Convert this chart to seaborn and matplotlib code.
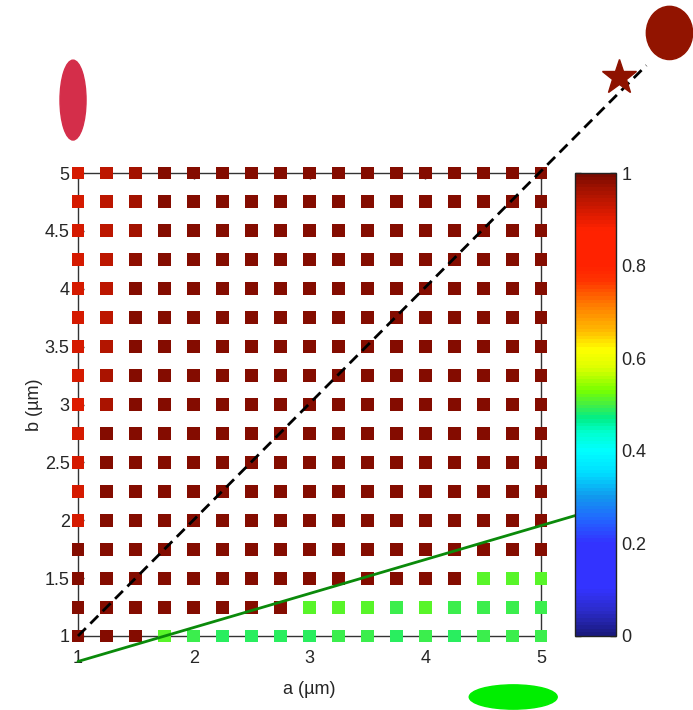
import numpy as np
import pandas as pd
import matplotlib
matplotlib.use("Agg")
import matplotlib.pyplot as plt
from matplotlib.colors import LinearSegmentedColormap, Normalize
from matplotlib.cm import ScalarMappable
from matplotlib.patches import Ellipse
import seaborn as sns

# ---------------- data ----------------
a_values = [1.0, 1.25, 1.5, 1.75, 2.0, 2.25, 2.5, 2.75, 3.0, 3.25, 3.5, 3.75, 4.0, 4.25, 4.5, 4.75, 5.0]
b_values = [1.0, 1.25, 1.5, 1.75, 2.0, 2.25, 2.5, 2.75, 3.0, 3.25, 3.5, 3.75, 4.0, 4.25, 4.5, 4.75, 5.0]

# rows: b = 1.0 ... 5.0 ; columns: a = 1.0 ... 5.0
t_b100 = [0.985, 0.985, 0.985, 0.51, 0.497, 0.485, 0.485, 0.485, 0.485, 0.497, 0.497, 0.485, 0.497, 0.485, 0.497, 0.497, 0.497]
t_b125 = [0.985, 0.985, 0.985, 0.985, 0.985, 0.985, 0.985, 0.985, 0.51, 0.51, 0.51, 0.497, 0.51, 0.497, 0.497, 0.497, 0.497]
t_b150 = [0.985, 0.985, 0.985, 0.985, 0.985, 0.985, 0.985, 0.985, 0.985, 0.985, 0.985, 0.985, 0.985, 0.985, 0.515, 0.515, 0.515]
t_b175 = [0.985, 0.985, 0.985, 0.985, 0.985, 0.985, 0.985, 0.985, 0.985, 0.985, 0.985, 0.985, 0.985, 0.985, 0.985, 0.985, 0.985]
t_b200 = [0.915, 0.985, 0.985, 0.985, 0.985, 0.985, 0.985, 0.985, 0.985, 0.985, 0.985, 0.985, 0.985, 0.985, 0.985, 0.985, 0.985]
t_b225 = [0.915, 0.985, 0.985, 0.985, 0.985, 0.985, 0.985, 0.985, 0.985, 0.985, 0.985, 0.985, 0.985, 0.985, 0.985, 0.985, 0.985]
t_b250 = [0.915, 0.985, 0.985, 0.985, 0.985, 0.985, 0.985, 0.985, 0.985, 0.985, 0.985, 0.985, 0.985, 0.985, 0.985, 0.985, 0.985]
t_b275 = [0.915, 0.985, 0.985, 0.985, 0.985, 0.985, 0.985, 0.985, 0.985, 0.985, 0.985, 0.985, 0.985, 0.985, 0.985, 0.985, 0.985]
t_b300 = [0.91, 0.958, 0.985, 0.985, 0.985, 0.985, 0.985, 0.985, 0.985, 0.985, 0.985, 0.985, 0.985, 0.985, 0.985, 0.985, 0.985]
t_b325 = [0.915, 0.955, 0.985, 0.985, 0.985, 0.985, 0.985, 0.985, 0.985, 0.985, 0.985, 0.985, 0.985, 0.985, 0.985, 0.985, 0.985]
t_b350 = [0.915, 0.948, 0.985, 0.985, 0.985, 0.985, 0.985, 0.985, 0.985, 0.985, 0.985, 0.985, 0.985, 0.985, 0.985, 0.985, 0.985]
t_b375 = [0.915, 0.945, 0.985, 0.985, 0.985, 0.985, 0.985, 0.985, 0.985, 0.985, 0.985, 0.985, 0.985, 0.985, 0.985, 0.985, 0.985]
t_b400 = [0.915, 0.942, 0.985, 0.985, 0.985, 0.985, 0.985, 0.985, 0.985, 0.985, 0.985, 0.985, 0.985, 0.985, 0.985, 0.985, 0.985]
t_b425 = [0.915, 0.942, 0.982, 0.985, 0.985, 0.985, 0.985, 0.985, 0.985, 0.985, 0.985, 0.985, 0.985, 0.985, 0.985, 0.985, 0.985]
t_b450 = [0.915, 0.94, 0.962, 0.985, 0.985, 0.985, 0.985, 0.985, 0.985, 0.985, 0.985, 0.985, 0.985, 0.985, 0.985, 0.985, 0.985]
t_b475 = [0.915, 0.94, 0.962, 0.985, 0.985, 0.985, 0.985, 0.985, 0.985, 0.985, 0.985, 0.985, 0.985, 0.985, 0.985, 0.985, 0.985]
t_b500 = [0.915, 0.94, 0.962, 0.985, 0.985, 0.985, 0.985, 0.985, 0.985, 0.985, 0.985, 0.985, 0.985, 0.985, 0.985, 0.985, 0.985]

transmission_rows = [t_b100, t_b125, t_b150, t_b175, t_b200, t_b225, t_b250, t_b275, t_b300,
                     t_b325, t_b350, t_b375, t_b400, t_b425, t_b450, t_b475, t_b500]

x_ticks = [1, 2, 3, 4, 5]
y_ticks = [1, 1.5, 2, 2.5, 3, 3.5, 4, 4.5, 5]
y_tick_labels = ["1", "1.5", "2", "2.5", "3", "3.5", "4", "4.5", "5"]
cbar_ticks = [0, 0.2, 0.4, 0.6, 0.8, 1]
cbar_tick_labels = ["0", "0.2", "0.4", "0.6", "0.8", "1"]

# reference lines
diag_a = [1.0, 5.91]
diag_b = [1.0, 5.93]
green_a = [1.0, 5.294]
green_b = [0.78, 2.04]
star_ab = (5.67, 5.83)

# ---------------- style ----------------
sns.set_theme(style="white")
plt.rcParams["font.family"] = ["Liberation Sans", "DejaVu Sans"]
text_color = "#262626"

cmap = LinearSegmentedColormap.from_list("jetlike", [
    (0.00, "#1a1a80"), (0.05, "#2b2bc8"), (0.10, "#3333ff"), (0.20, "#3333ff"),
    (0.25, "#2266ff"), (0.30, "#1199ee"), (0.35, "#00ddff"), (0.40, "#00ffff"),
    (0.44, "#00ffcc"), (0.47, "#00ee88"), (0.50, "#44ee44"), (0.53, "#77ff00"),
    (0.58, "#ddff00"), (0.62, "#ffff00"), (0.66, "#ffbb00"), (0.72, "#ff7700"),
    (0.77, "#ff3300"), (0.80, "#ff2200"), (0.88, "#ff2200"), (0.93, "#cc1800"),
    (0.97, "#a01200"), (1.00, "#7a0a00")], N=128)
norm = Normalize(0, 1)

AA, BB = np.meshgrid(a_values, b_values)
df = pd.DataFrame({"a": AA.ravel(), "b": BB.ravel(),
                   "T": np.array(transmission_rows).ravel()})

W, H = 693, 710
fig = plt.figure(figsize=(W / 100, H / 100), dpi=100)
ax = fig.add_axes([78 / W, 74 / H, 463 / W, 463 / H])
cax = fig.add_axes([575 / W, 74 / H, 41 / W, 463 / H])

sns.scatterplot(data=df, x="a", y="b", hue="T", palette=cmap, hue_norm=(0, 1),
                marker="s", s=86, linewidth=0, legend=False, ax=ax,
                clip_on=False, zorder=4)

ax.plot(diag_a, diag_b, color="black", lw=2, ls="--", dashes=(4, 2.3),
        clip_on=False, zorder=5)
ax.plot(green_a, green_b, color="#0a8a0a", lw=2, clip_on=False, zorder=5)
ax.plot([star_ab[0]], [star_ab[1]], marker="*", ms=26, color="#8e1200",
        mec="#8e1200", clip_on=False, zorder=6)

# cross-section shapes
ax.add_patch(Ellipse((0.957, 5.63), 0.225, 0.69, color="#d42e4a", clip_on=False, zorder=6))
ax.add_patch(Ellipse((4.76, 0.473), 0.76, 0.21, color="#00ee00", clip_on=False, zorder=6))
ax.add_patch(Ellipse((6.11, 6.21), 0.40, 0.46, color="#921400", clip_on=False, zorder=6))

ax.set_xlim(1, 5)
ax.set_ylim(1, 5)
ax.set_xticks(x_ticks)
ax.set_xticklabels([str(t) for t in x_ticks])
ax.set_yticks(y_ticks)
ax.set_yticklabels(y_tick_labels)
ax.tick_params(axis="x", direction="in", length=4, width=1, pad=10,
               labelsize=13, colors=text_color, top=True, bottom=True)
ax.tick_params(axis="y", direction="in", length=4, width=1, pad=6,
               labelsize=13, colors=text_color, left=True, right=True)
for sp in ax.spines.values():
    sp.set_color("#333333")
    sp.set_linewidth(1)
ax.set_xlabel("a (\u00b5m)", fontsize=13, color=text_color, labelpad=10)
ax.set_ylabel("b (\u00b5m)", fontsize=13, color=text_color, labelpad=1)

sm = ScalarMappable(norm=norm, cmap=cmap)
cb = fig.colorbar(sm, cax=cax)
cb.set_ticks(cbar_ticks)
cb.set_ticklabels(cbar_tick_labels)
cax.tick_params(direction="in", length=4, width=1, labelsize=13,
                colors=text_color, left=True, right=True, pad=4)
cb.outline.set_edgecolor("#222222")
cb.outline.set_linewidth(1)

fig.savefig("out.png", dpi=100)
